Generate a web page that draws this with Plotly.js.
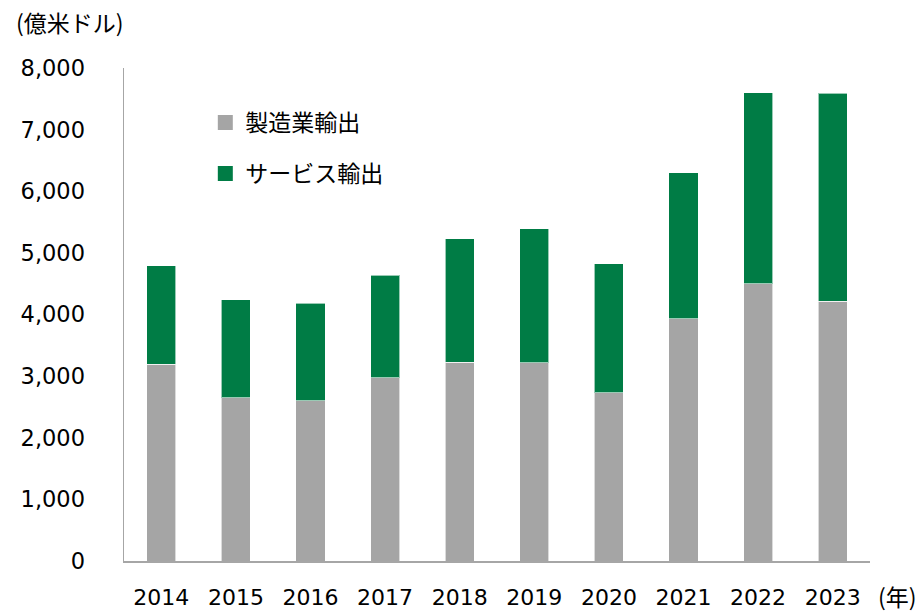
<!DOCTYPE html>
<html><head><meta charset="utf-8">
<script src="https://cdn.plot.ly/plotly-3.0.1.min.js"></script>
<style>html,body{margin:0;padding:0;background:#fff;}#chart{width:922px;height:612px;}</style>
</head><body><div id="chart"></div>
<script>
const years = ["2014","2015","2016","2017","2018","2019","2020","2021","2022","2023"];
const manufacturing = [3195,2653,2604,2973,3228,3216,2734,3931,4500,4219];
const services = [1597,1587,1582,1668,2003,2177,2086,2372,3097,3372];
const seriesNames = ["製造業輸出","サービス輸出"];
const seriesColors = ["#A5A5A5","#007C45"];
const yTicks = [0,1000,2000,3000,4000,5000,6000,7000,8000];
const yTickText = ["0","1,000","2,000","3,000","4,000","5,000","6,000","7,000","8,000"];

const jp = "'Noto Sans CJK JP', 'DejaVu Sans', sans-serif";
const num = "'DejaVu Sans', 'Noto Sans CJK JP', sans-serif";
const barLine = {color:'rgba(255,255,255,0.6)', width:1};
const traces = [
  {type:'bar', x:years, y:manufacturing, name:seriesNames[0], showlegend:false,
   marker:{color:seriesColors[0], line:barLine}, width:0.39, hoverinfo:'skip'},
  {type:'bar', x:years, y:services, name:seriesNames[1], showlegend:false,
   marker:{color:seriesColors[1], line:barLine}, width:0.39, hoverinfo:'skip'},
  {type:'scatter', mode:'markers', x:[null], y:[null], name:seriesNames[0], legendgroup:'a',
   marker:{symbol:'square', size:15, color:seriesColors[0]}, hoverinfo:'skip'},
  {type:'scatter', mode:'markers', x:[null], y:[null], name:seriesNames[1], legendgroup:'b',
   marker:{symbol:'square', size:15, color:seriesColors[1]}, hoverinfo:'skip'}
];
const layout = {
  width:922, height:612,
  margin:{l:124, r:52, t:68, b:51},
  barmode:'stack',
  paper_bgcolor:'#fff', plot_bgcolor:'#fff',
  font:{family:jp, size:23, color:'#000'},
  showlegend:true,
  legend:{x:0.109, y:0.933, xanchor:'left', yanchor:'top', traceorder:'grouped', tracegroupgap:18,
          font:{family:jp, size:23, color:'#000'}, bgcolor:'rgba(0,0,0,0)'},
  xaxis:{type:'category', showgrid:false, showline:true, linecolor:'#A6A6A6', linewidth:1.5,
         ticks:'', tickfont:{family:num, size:22, color:'#000'}, ticklabelstandoff:16, fixedrange:true},
  yaxis:{range:[0,8000], tickvals:yTicks, ticktext:yTickText, showgrid:false, zeroline:false,
         showline:true, linecolor:'#A6A6A6', linewidth:1.5, ticks:'',
         tickfont:{family:num, size:22.5, color:'#000'}, ticklabelstandoff:33, fixedrange:true},
  annotations:[
    {xref:'paper', yref:'paper', x:-0.073, y:1.093, xanchor:'center', yanchor:'middle', showarrow:false,
     text:'(億米ドル)', font:{family:jp, size:23, color:'#000'}},
    {xref:'paper', yref:'paper', x:1.0375, y:-0.071, xanchor:'center', yanchor:'middle', showarrow:false,
     text:'(年)', font:{family:jp, size:23, color:'#000'}}
  ]
};
Plotly.newPlot('chart', traces, layout, {displayModeBar:false, staticPlot:true});
</script></body></html>
